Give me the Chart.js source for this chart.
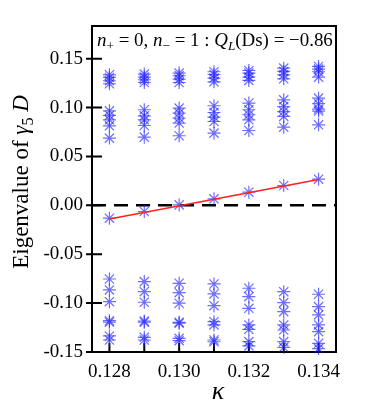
<!DOCTYPE html>
<html>
<head>
<meta charset="utf-8">
<script src="https://cdn.jsdelivr.net/npm/chart.js@4"></script>
<style>
  html, body { margin: 0; padding: 0; background: #fff; }
</style>
</head>
<body>
<canvas id="chart" width="382" height="414"></canvas>
<script>
// kappa values (x) and tick labels
const kappa = [0.128, 0.129, 0.130, 0.131, 0.132, 0.133, 0.134];
const xTickValues = [0.128, 0.129, 0.130, 0.131, 0.132, 0.133, 0.134];
const xTickLabels = ['0.128', '', '0.130', '', '0.132', '', '0.134'];
const yTickValues = [-0.15, -0.10, -0.05, 0.00, 0.05, 0.10, 0.15];
const yTickLabels = ['-0.15', '-0.10', '-0.05', '0.00', '0.05', '0.10', '0.15'];

// eigenvalues of gamma5 D, one array per level
const upper1 = [0.1336, 0.1343, 0.1353, 0.1367, 0.1380, 0.1404, 0.1421];
const upper2 = [0.1309, 0.1312, 0.1326, 0.1339, 0.1353, 0.1370, 0.1394];
const upper3 = [0.1275, 0.1285, 0.1292, 0.1302, 0.1312, 0.1336, 0.1367];
const upper4 = [0.1244, 0.1257, 0.1257, 0.1264, 0.1278, 0.1295, 0.1312];

const mid1 = [0.0967, 0.0978, 0.0995, 0.1019, 0.1047, 0.1080, 0.1097];
const mid2 = [0.0920, 0.0916, 0.0944, 0.0950, 0.0978, 0.1010, 0.1040];
const mid3 = [0.0875, 0.0875, 0.0893, 0.0903, 0.0927, 0.0960, 0.0985];
const mid4 = [0.0814, 0.0817, 0.0842, 0.0858, 0.0875, 0.0910, 0.0965];
const mid5 = [0.0688, 0.0698, 0.0712, 0.0739, 0.0766, 0.0800, 0.0824];

const zeroMode = [-0.0131, -0.0063, 0.0005, 0.0067, 0.0135, 0.0203, 0.0268];
const fitX = [0.128, 0.134];
const fitY = [-0.0140, 0.0265];

const neg1 = [-0.0753, -0.0780, -0.0797, -0.0804, -0.0848, -0.0883, -0.0909];
const neg2 = [-0.0865, -0.0883, -0.0893, -0.0906, -0.0934, -0.0995, -0.1036];
const neg3 = [-0.0985, -0.0991, -0.1001, -0.1026, -0.1053, -0.1087, -0.1121];

const low1 = [-0.1180, -0.1183, -0.1196, -0.1190, -0.1223, -0.1223, -0.1223];
const low2 = [-0.1195, -0.1195, -0.1205, -0.1223, -0.1268, -0.1275, -0.1292];
const low3 = [-0.1336, -0.1350, -0.1360, -0.1377, -0.1394, -0.1394, -0.1411];
const low4 = [-0.1377, -0.1377, -0.1384, -0.1395, -0.1438, -0.1452, -0.1465];

const levels = [upper1, upper2, upper3, upper4, mid1, mid2, mid3, mid4, mid5,
                zeroMode, neg1, neg2, neg3, low1, low2, low3, low4];

const SERIF = 'Liberation Serif';
Chart.defaults.font.family = SERIF;

const datasets = levels.map(arr => ({
  type: 'scatter',
  data: arr.map((v, i) => ({ x: kappa[i], y: v })),
  pointStyle: 'star',
  pointRadius: 6.5,
  pointBorderWidth: 1.2,
  borderColor: 'rgba(30, 30, 255, 0.65)',
  backgroundColor: 'rgba(30, 30, 255, 0.65)',
  clip: false
}));

datasets.unshift({
  type: 'line',
  data: fitX.map((x, i) => ({ x: x, y: fitY[i] })),
  borderColor: '#ff2020',
  borderWidth: 1.5,
  pointRadius: 0,
  fill: false
});

// draw text pieces with mixed styles (italic / subscript)
function drawRich(ctx, parts, x, y, size, measureOnly) {
  let cx = x;
  parts.forEach(p => {
    const sub = p[1].indexOf('sub') >= 0;
    const ital = p[1].indexOf('i') === 0;
    const fs = sub ? size * 0.7 : size;
    ctx.font = (ital ? 'italic ' : '') + fs + 'px "' + SERIF + '"';
    if (!measureOnly) ctx.fillText(p[0], cx, y + (sub ? size * 0.22 : 0));
    cx += ctx.measureText(p[0]).width;
  });
  return cx - x;
}

const framePlugin = {
  id: 'frame',
  beforeDatasetsDraw(chart) {
    const { ctx, chartArea: a, scales } = chart;
    ctx.save();
    // zero line
    const y0 = scales.y.getPixelForValue(0);
    ctx.strokeStyle = '#000';
    ctx.lineWidth = 2.5;
    ctx.setLineDash([14, 8]);
    ctx.beginPath();
    ctx.moveTo(a.left, y0);
    ctx.lineTo(a.right, y0);
    ctx.stroke();
    ctx.setLineDash([]);
    // box
    ctx.lineWidth = 2;
    ctx.strokeRect(a.left, a.top, a.right - a.left, a.bottom - a.top);
    // ticks
    ctx.beginPath();
    yTickValues.forEach(v => {
      const py = scales.y.getPixelForValue(v);
      ctx.moveTo(a.left - 6, py);
      ctx.lineTo(a.left + 10, py);
    });
    xTickValues.forEach(v => {
      const px = scales.x.getPixelForValue(v);
      ctx.moveTo(px, a.bottom);
      ctx.lineTo(px, a.bottom - 9);
    });
    ctx.stroke();
    ctx.restore();
  },
  afterDraw(chart) {
    const { ctx } = chart;
    ctx.save();
    ctx.fillStyle = '#000';
    ctx.textBaseline = 'alphabetic';
    ctx.textAlign = 'left';

    // annotation
    const note = [['n', 'i'], ['+', 'sub'], [' = 0, ', 'n'], ['n', 'i'], ['\u2212', 'sub'],
                  [' = 1 : ', 'n'], ['Q', 'i'], ['L', 'isub'], ['(Ds) = \u22120.86', 'n']];
    let w = drawRich(ctx, note, 0, 0, 18, true);
    const size = 18 * 236 / w;
    drawRich(ctx, note, 97, 46, size);

    // y title
    const ytitle = [['Eigenvalue of ', 'n'], ['\u03b3', 'i'], ['5', 'sub'], [' D', 'i']];
    w = drawRich(ctx, ytitle, 0, 0, 23, true);
    ctx.translate(28, 182);
    ctx.rotate(-Math.PI / 2);
    drawRich(ctx, ytitle, -w / 2, 0, 23);
    ctx.setTransform(1, 0, 0, 1, 0, 0);

    // x title
    ctx.font = 'italic 26px "' + SERIF + '"';
    ctx.textAlign = 'center';
    ctx.fillText('\u03ba', 218, 399);
    ctx.restore();
  }
};

new Chart(document.getElementById('chart').getContext('2d'), {
  data: { datasets: datasets },
  options: {
    responsive: false,
    animation: false,
    devicePixelRatio: 1,
    layout: { padding: { top: 26, right: 46, left: 0, bottom: 0 } },
    plugins: { legend: { display: false }, tooltip: { enabled: false } },
    scales: {
      x: {
        type: 'linear',
        min: 0.1275,
        max: 0.1345,
        afterFit(scale) { scale.height = 62; },
        afterBuildTicks(scale) { scale.ticks = xTickValues.map(v => ({ value: v })); },
        grid: { display: false, drawTicks: false },
        border: { display: false },
        ticks: {
          autoSkip: false,
          maxRotation: 0,
          padding: 9,
          color: '#000',
          font: { family: SERIF, size: 19 },
          callback: (v, i) => xTickLabels[i]
        }
      },
      y: {
        type: 'linear',
        min: -0.15,
        max: 0.1835,
        afterFit(scale) { scale.width = 92; },
        afterBuildTicks(scale) { scale.ticks = yTickValues.map(v => ({ value: v })); },
        grid: { display: false, drawTicks: false },
        border: { display: false },
        ticks: {
          padding: 9,
          color: '#000',
          font: { family: SERIF, size: 19 },
          callback: (v, i) => yTickLabels[i]
        }
      }
    }
  },
  plugins: [framePlugin]
});
</script>
</body>
</html>
